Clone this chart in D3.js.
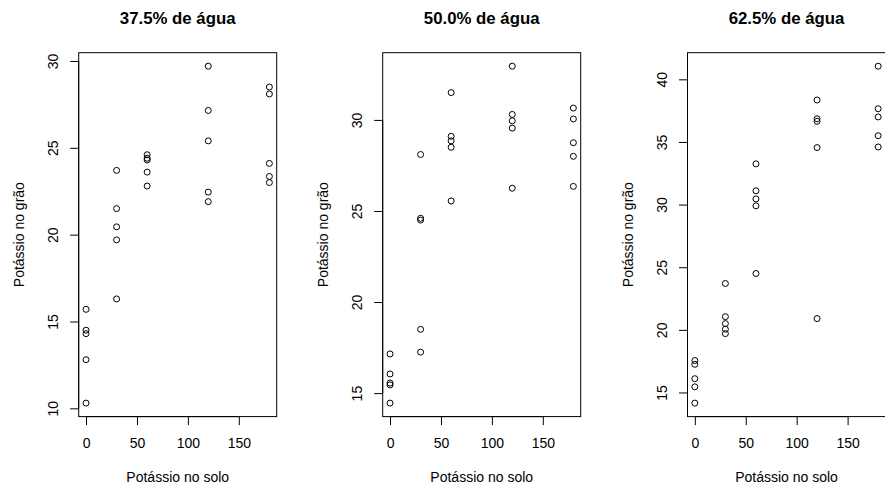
<!DOCTYPE html>
<html>
<head>
<meta charset="utf-8">
<script src="https://cdn.jsdelivr.net/npm/d3@7"></script>
<style>
  body { margin: 0; background: #fff; }
  svg { font-family: "Liberation Sans", Arial, sans-serif; }
</style>
</head>
<body>
<svg id="chart" width="885" height="487"></svg>
<script>
// Potássio no solo (5 repetições por dose)
const potassioSolo = [0, 0, 0, 0, 0, 30, 30, 30, 30, 30, 60, 60, 60, 60, 60,
                      120, 120, 120, 120, 120, 180, 180, 180, 180, 180];

// Potássio no grão, por nível de água
const grao375 = [15.7, 14.5, 14.3, 12.8, 10.3,
                 23.7, 21.5, 20.45, 19.7, 16.3,
                 24.6, 24.4, 24.3, 23.6, 22.8,
                 29.7, 27.15, 25.4, 22.45, 21.9,
                 28.5, 28.1, 24.1, 23.35, 23.0];
const grao500 = [17.15, 16.05, 15.55, 15.45, 14.45,
                 28.1, 24.6, 24.5, 18.5, 17.25,
                 31.5, 29.1, 28.85, 28.5, 25.55,
                 32.95, 30.3, 29.95, 29.55, 26.25,
                 30.65, 30.05, 28.75, 28.0, 26.35];
const grao625 = [17.55, 17.25, 16.1, 15.45, 14.15,
                 23.7, 21.05, 20.5, 20.05, 19.7,
                 33.25, 31.1, 30.45, 29.9, 24.5,
                 38.35, 36.85, 36.65, 34.55, 20.9,
                 41.05, 37.65, 37.0, 35.5, 34.6];

const titulos = ["37.5% de água", "50.0% de água", "62.5% de água"];
const series = [grao375, grao500, grao625];
const xTicks = [0, 50, 100, 150];

const svg = d3.select("#chart");
const panelLeft = [78.7, 382.7, 687.5];
const plotW = 198;
const plotTop = 52.7, plotBottom = 416.6;
const tickLen = 8.5;

// R style axis range: data range extended by 4%
function rRange(vals) {
  const [a, b] = d3.extent(vals);
  const pad = (b - a) * 0.04;
  return [a - pad, b + pad];
}

series.forEach((ys, i) => {
  const left = panelLeft[i];
  const g = svg.append("g");

  const x = d3.scaleLinear().domain(rRange(potassioSolo)).range([left, left + plotW]);
  const y = d3.scaleLinear().domain(rRange(ys)).range([plotBottom, plotTop]);

  // title
  g.append("text")
    .attr("x", left + plotW / 2)
    .attr("y", 24)
    .attr("text-anchor", "middle")
    .attr("font-size", "16.8px")
    .attr("font-weight", "bold")
    .text(titulos[i]);

  // x axis
  const xa = g.append("g")
    .attr("transform", `translate(0,${plotBottom})`)
    .call(d3.axisBottom(x).tickValues(xTicks).tickSize(tickLen).tickSizeOuter(0));
  xa.select(".domain").attr("d", `M${x(xTicks[0])},0H${x(xTicks[xTicks.length - 1])}`);
  xa.selectAll("text")
    .attr("font-size", "14px").attr("font-family", null)
    .attr("y", 31.7).attr("dy", null);

  // y axis
  const yTicks = y.ticks(5);
  const ya = g.append("g")
    .attr("transform", `translate(${left},0)`)
    .call(d3.axisLeft(y).tickValues(yTicks).tickSize(tickLen).tickSizeOuter(0));
  ya.select(".domain").attr("d", `M0,${y(yTicks[0])}V${y(yTicks[yTicks.length - 1])}`);
  ya.selectAll("text")
    .attr("font-size", "14px").attr("font-family", null)
    .attr("x", 0).attr("y", -20.5).attr("dy", null)
    .attr("text-anchor", "middle")
    .attr("transform", "rotate(-90)");
  svg.selectAll(".tick line, .domain").attr("stroke", "#000");

  // box
  g.append("rect")
    .attr("x", left).attr("y", plotTop)
    .attr("width", plotW).attr("height", plotBottom - plotTop)
    .attr("fill", "none").attr("stroke", "#000").attr("stroke-width", 1);

  // axis titles
  g.append("text")
    .attr("x", left + plotW / 2)
    .attr("y", 481.7)
    .attr("text-anchor", "middle")
    .attr("font-size", "14px")
    .text("Potássio no solo");
  g.append("text")
    .attr("transform", `translate(${left - 54.5},${(plotTop + plotBottom) / 2}) rotate(-90)`)
    .attr("text-anchor", "middle")
    .attr("font-size", "14px")
    .text("Potássio no grão");

  // points
  g.selectAll("circle")
    .data(ys)
    .enter()
    .append("circle")
    .attr("cx", (d, j) => x(potassioSolo[j]))
    .attr("cy", d => y(d))
    .attr("r", 3)
    .attr("fill", "none")
    .attr("stroke", "#000")
    .attr("stroke-width", 1);
});
</script>
</body>
</html>
